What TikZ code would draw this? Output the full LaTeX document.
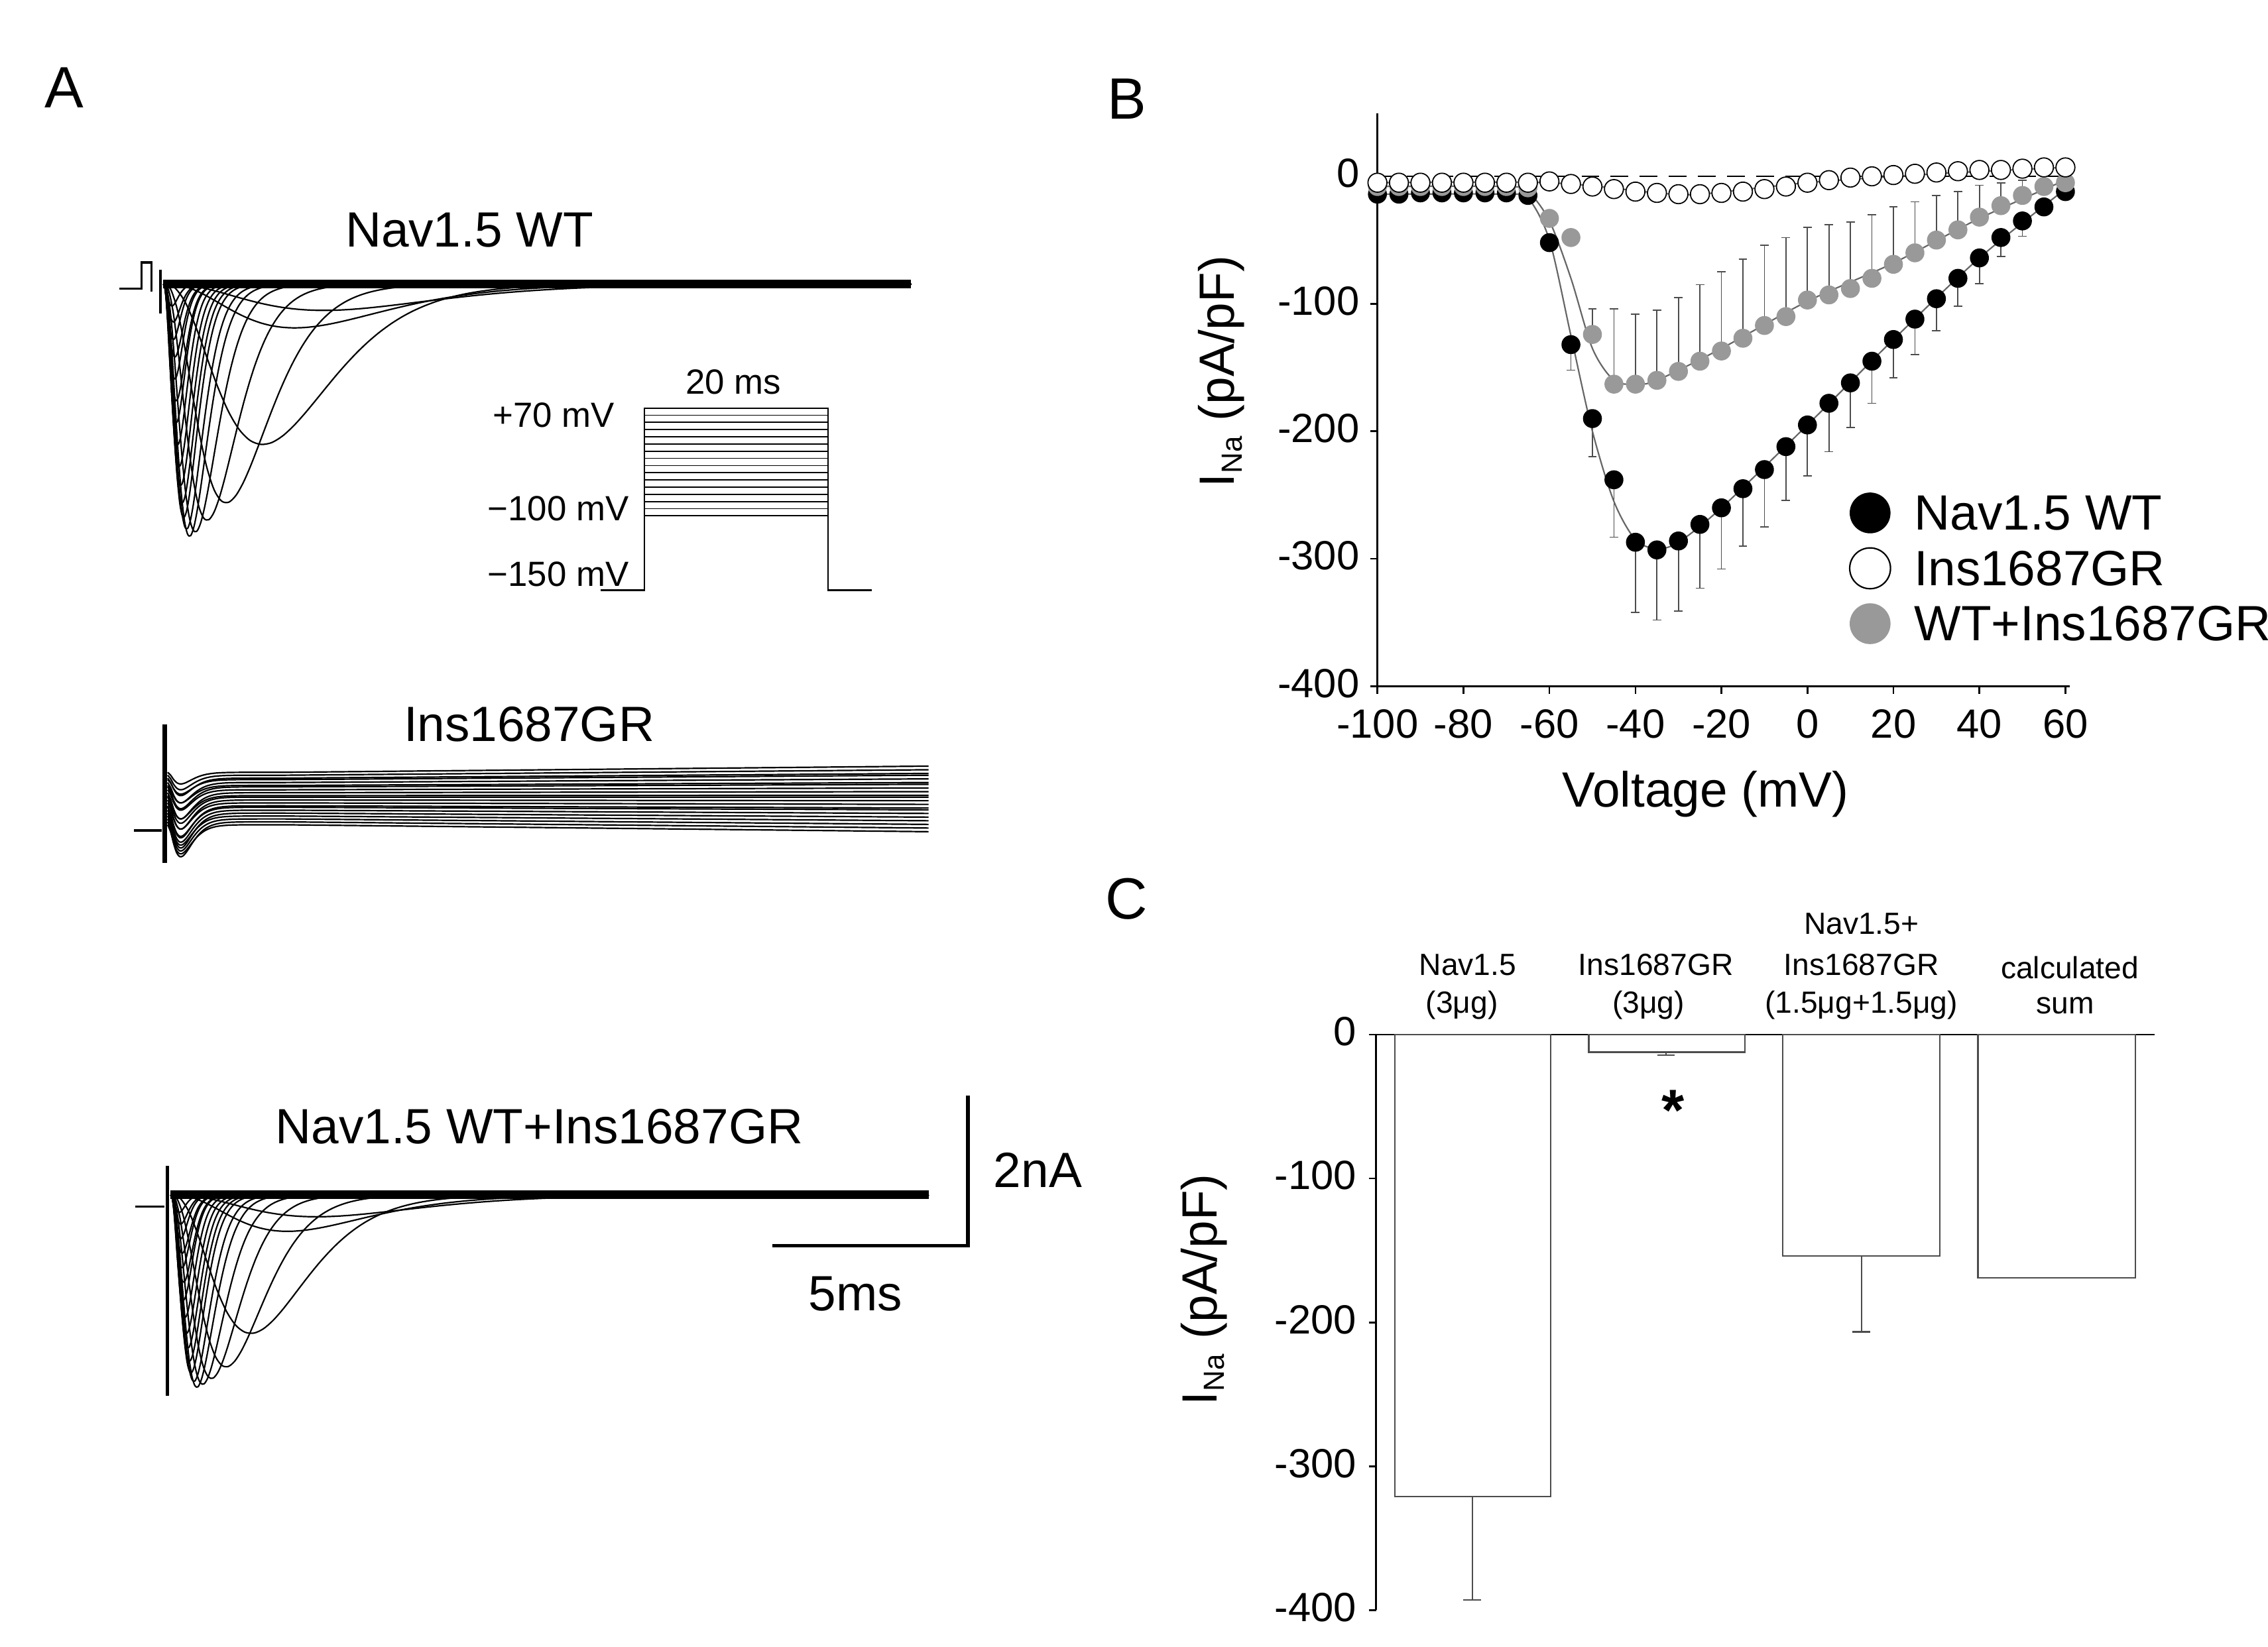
\documentclass[tikz,border=0pt]{standalone}
\usepackage{fontspec}
\setmainfont{Liberation Sans}
\begin{document}
\begin{tikzpicture}[x=0.5pt,y=-0.5pt,
  declare function={g(\s)=\s*exp(1-\s);},
  lbl/.style={inner sep=0pt,font=\fontsize{17}{20}\selectfont},
  tck/.style={inner sep=0pt,font=\fontsize{14}{16}\selectfont},
  sml/.style={inner sep=0pt,font=\fontsize{10.5}{12}\selectfont},
  ins/.style={inner sep=0pt,font=\fontsize{12}{14}\selectfont},
  pan/.style={inner sep=0pt,font=\fontsize{20}{24}\selectfont},
  dot/.style={circle,inner sep=0pt,minimum size=6.5pt},
  ldot/.style={circle,inner sep=0pt,minimum size=14pt},
  trace/.style={line width=0.5pt,black}]
\useasboundingbox[fill=white] (0,0) rectangle (1556,1130);
% ---------------- Panel A
\node[pan] (A) at (44,60) {A};
\node[lbl] (t1) at (322,158) {Nav1.5 WT};
\draw[line width=0.8pt] (82,198) -| (97,180) -| (104,200);
\draw[line width=1pt] (110,185)--(110,215);
\foreach \tp/\A in {68/110,43/150,30/162,22/170,18/173,16/168,14/160,13/150,12/138,11/125,10/110,9/95,9/80,8/65,8/50,7/38,7/26,6/15,110/18,90/30}{
  \pgfmathsetmacro\dm{min(513,8*\tp)}
  \draw[trace] plot[domain=0:\dm,samples=70,smooth] ({112+\x},{195+\A*g(\x/\tp)*g(\x/\tp)*g(\x/\tp)}) -- (625,195);
}
\draw[line width=3pt] (112,195)--(625,195);
% protocol inset
\foreach \i in {0,...,15}{\draw[line width=0.4pt] (442,{280+\i*74/15})--(568,{280+\i*74/15});}
\draw[line width=0.5pt] (412,405)--(442,405)--(442,280)--(568,280)--(568,405)--(598,405);
\node[ins] (p1) at (503,262) {20 ms};
\node[ins] (p2) at (380,285) {+70 mV};
\node[ins] (p3) at (383,349) {−100 mV};
\node[ins] (p4) at (383,394) {−150 mV};
% Ins trace
\node[lbl] (t2) at (363,497) {Ins1687GR};
\draw[line width=0.8pt] (92,570)--(111,570);
\draw[line width=1.5pt] (113,497)--(113,592);
\foreach \yi/\d in {530/8,532/10,534/12,535/10,537/14,539/12,540/15,542/14,544/18,546/16,547/18,549/20,551/18,553/22,554/20,556/22,558/24,560/20,562/22,564/24,566/20}{
  \pgfmathsetmacro\ye{547+(\yi-547)*1.25}
  \draw[trace] plot[domain=0:80,samples=40,smooth] ({115+\x},{\yi+\d*g(\x/9)*g(\x/9)}) -- (637,\ye);
}
% WT+Ins trace
\node[lbl] (t3) at (370,773) {Nav1.5 WT+Ins1687GR};
\draw[line width=0.8pt] (93,828)--(113,828);
\draw[line width=1.2pt] (115,800)--(115,958);
\foreach \tp/\A in {55/95,38/118,28/126,22/130,18/132,16/128,14/122,13/114,12/105,11/95,10/84,9/72,9/60,8/50,8/40,7/30,7/20,6/12,100/15,80/25}{
  \pgfmathsetmacro\dm{min(520,8*\tp)}
  \draw[trace] plot[domain=0:\dm,samples=70,smooth] ({117+\x},{820+\A*g(\x/\tp)*g(\x/\tp)*g(\x/\tp)}) -- (637,820);
}
\draw[line width=3pt] (117,820)--(637,820);
% scale bar
\coordinate (s1) at (664,752); \coordinate (s2) at (664,855); \coordinate (s3) at (530,855);
\draw[line width=1.2pt] (s1)--(s2)--(s3);
\node[lbl] (sb1) at (712,803) {2nA};
\node[lbl] (sb2) at (587,888) {5ms};
% ---------------- Panel B
\node[pan] (B) at (773,68) {B};
\draw[line width=0.6pt] (945,78)--(945,471)--(1420,471);
\foreach \v/\s in {-100/-100,-80/-80,-60/-60,-40/-40,-20/-20,0/0,20/20,40/40,60/60}{
  \draw[line width=0.6pt] ({1240+2.95*\v},471)--({1240+2.95*\v},476);
  \node[tck] at ({1240+2.95*\v},497) {\s};}
\foreach \i/\s in {0/0,-100/-100,-200/-200,-300/-300,-400/-400}{
  \draw[line width=0.6pt] (940,{121-0.875*\i})--(945,{121-0.875*\i});
  \node[tck,anchor=east] at (933,{119-0.875*\i}) {\s};}
\node[lbl,rotate=90] (bl) at (838,255) {I\textsubscript{\fontsize{10}{12}\selectfont Na} (pA/pF)};
\node[lbl] (bx) at (1170,545) {Voltage (mV)};
\draw[dash pattern=on 6pt off 4pt,line width=0.4pt] (945,121)--(1420,121);
\begin{scope}[shift={(1240,121)},xscale=2.95,yscale=-0.875]
  \foreach \v/\i/\e in {-55/-132/20,-50/-190/30,-45/-238/45,-40/-287/55,-35/-293/55,-30/-286/55,-25/-273/50,-20/-260/48,-15/-245/45,-10/-230/45,-5/-212/42,0/-195/40,5/-178/38,10/-162/35,15/-145/33,20/-128/30,25/-112/28,30/-96/25,35/-80/22,40/-64/20,45/-48/15,50/-35/12}{
    \draw[line width=0.4pt,black!70] (\v,\i)--(\v,\i-\e) (\v-1,\i-\e)--(\v+1,\i-\e);}
  \foreach \v/\i/\e in {-50/-124/20,-45/-163/59,-40/-163/55,-35/-160/55,-30/-153/58,-25/-145/60,-20/-137/62,-15/-127/62,-10/-117/63,-5/-110/62,0/-97/57,5/-93/55,10/-88/52,15/-80/50,20/-69/45,25/-60/40,30/-50/35,35/-42/30,40/-32/25,45/-23/18,50/-15/12}{
    \draw[line width=0.4pt,black!70] (\v,\i)--(\v,\i+\e) (\v-1,\i+\e)--(\v+1,\i+\e);}
  \draw[black!60,line width=0.5pt] plot[smooth] coordinates {(-100,-14)(-70,-14)(-65,-17)(-60,-50)(-55,-125)(-50,-200)(-45,-255)(-40,-285)(-35,-292)(-30,-287)(-20,-260)(0,-195)(20,-128)(40,-64)(60,-10)};
  \draw[black!60,line width=0.5pt] plot[smooth] coordinates {(-100,-8)(-70,-8)(-65,-12)(-60,-35)(-55,-80)(-50,-135)(-45,-160)(-40,-163)(-35,-160)(-20,-135)(0,-98)(20,-68)(40,-33)(60,-3)};
  \draw[black!60,line width=0.5pt] plot[smooth] coordinates {(-100,-5)(-60,-5)(-35,-13)(-25,-14)(0,-5)(30,2)(60,7)};
  \foreach \v/\i in {-100/-14,-95/-14,-90/-13,-85/-13,-80/-13,-75/-13,-70/-13,-65/-15,-60/-52,-55/-132,-50/-190,-45/-238,-40/-287,-35/-293,-30/-286,-25/-273,-20/-260,-15/-245,-10/-230,-5/-212,0/-195,5/-178,10/-162,15/-145,20/-128,25/-112,30/-96,35/-80,40/-64,45/-48,50/-35,55/-24,60/-12}{
    \node[dot,fill=black] at (\v,\i) {};}
  \foreach \v/\i in {-100/-8,-95/-8,-90/-8,-85/-8,-80/-8,-75/-8,-70/-8,-65/-9,-60/-33,-55/-48,-50/-124,-45/-163,-40/-163,-35/-160,-30/-153,-25/-145,-20/-137,-15/-127,-10/-117,-5/-110,0/-97,5/-93,10/-88,15/-80,20/-69,25/-60,30/-50,35/-42,40/-32,45/-23,50/-15,55/-8,60/-5}{
    \node[dot,fill=black!40] at (\v,\i) {};}
  \foreach \v/\i in {-100/-5,-95/-5,-90/-5,-85/-5,-80/-5,-75/-5,-70/-5,-65/-5,-60/-4,-55/-6,-50/-8,-45/-10,-40/-12,-35/-13,-30/-14,-25/-14,-20/-13,-15/-12,-10/-10,-5/-8,0/-5,5/-3,10/-1,15/0,20/1,25/2,30/3,35/4,40/5,45/5,50/6,55/7,60/7}{
    \node[dot,draw=black,fill=white,line width=0.4pt] at (\v,\i) {};}
\end{scope}
% legend
\node[ldot,fill=black] (l1) at (1283,352) {};
\node[ldot,draw=black,fill=white,line width=0.5pt] (l2) at (1283,390) {};
\node[ldot,fill=black!40] (l3) at (1283,428) {};
\node[lbl,anchor=west] at (1313,352) {Nav1.5 WT};
\node[lbl,anchor=west] at (1313,390) {Ins1687GR};
\node[lbl,anchor=west] at (1313,428) {WT+Ins1687GR};
% ---------------- Panel C
\node[pan] (C) at (773,617) {C};
\draw[line width=0.6pt] (944,1105)--(944,710)--(1478,710);
\foreach \i/\s in {0/0,-100/-100,-200/-200,-300/-300,-400/-400}{
  \draw[line width=0.6pt] (939,{710-0.9875*\i})--(944,{710-0.9875*\i});
  \node[tck,anchor=east] at (931,{708-0.9875*\i}) {\s};}
\node[lbl,rotate=90] (cl) at (826,885) {I\textsubscript{\fontsize{10}{12}\selectfont Na} (pA/pF)};
\draw[line width=0.5pt,black!70] (1010,1027)--(1010,1098) (1004,1098)--(1016,1098);
\draw[line width=0.5pt,black!70] (1143,722)--(1143,724) (1137,724)--(1149,724);
\draw[line width=0.5pt,black!70] (1277,862)--(1277,914) (1271,914)--(1283,914);
\draw[line width=0.5pt,black!70] (957,710) rectangle (1064,1027);
\draw[line width=0.5pt,black!70] (1090,710) rectangle (1197,722);
\draw[line width=0.5pt,black!70] (1223,710) rectangle (1331,862);
\draw[line width=0.5pt,black!70] (1357,710) rectangle (1465,877);
\node[inner sep=0pt,font=\fontsize{20}{20}\selectfont\bfseries] (star) at (1148,762) {*};
\node[sml] at (1007,662) {Nav1.5};
\node[sml] at (1003,690) {(3μg)};
\node[sml] at (1136,662) {Ins1687GR};
\node[sml] at (1131,690) {(3μg)};
\node[sml] at (1277,634) {Nav1.5+};
\node[sml] at (1277,662) {Ins1687GR};
\node[sml] at (1277,690) {(1.5μg+1.5μg)};
\node[sml] at (1420,664) {calculated};
\node[sml] at (1417,690) {sum};
\end{tikzpicture}
\end{document}
